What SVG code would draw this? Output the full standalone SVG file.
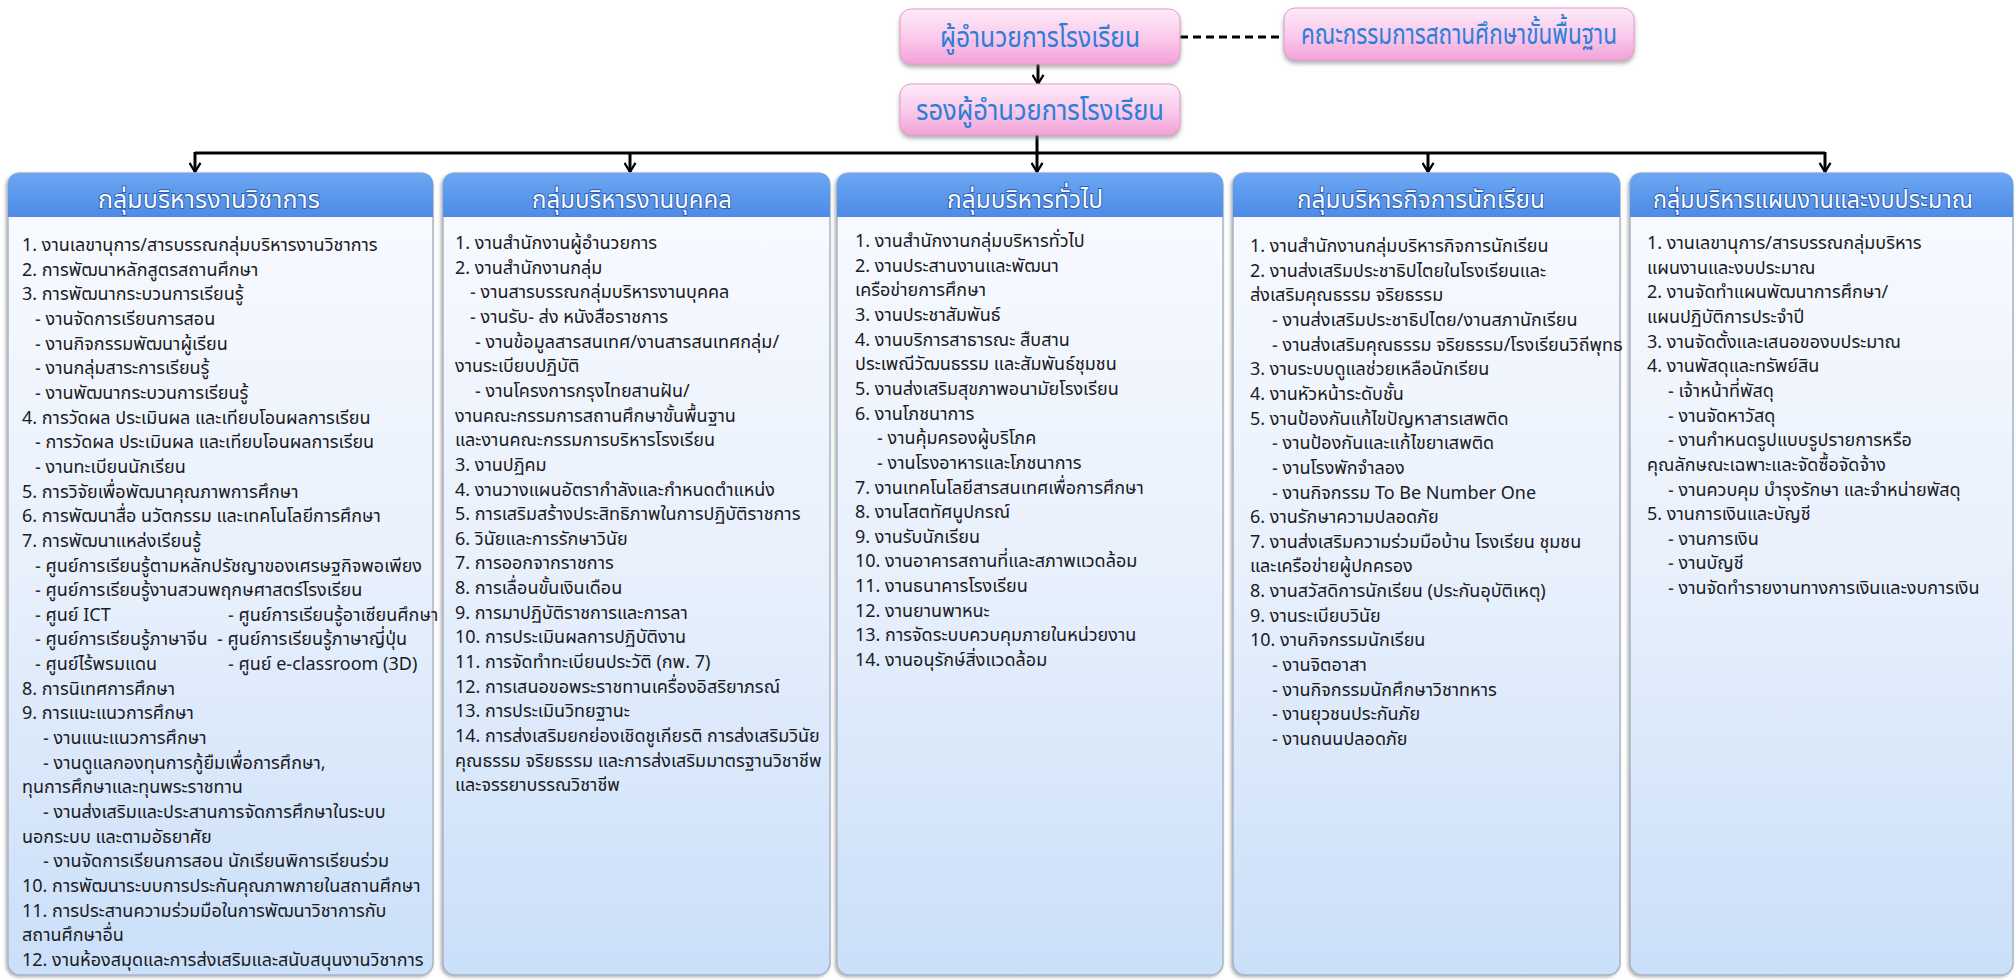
<svg xmlns="http://www.w3.org/2000/svg" width="2015" height="980" viewBox="0 0 2015 980">
<defs>
<style>
.f { font-family: 'Noto Sans Thai UI','Noto Sans Thai','Noto Sans Thai Looped',Loma,Garuda,'Tlwg Typo','Noto Sans','DejaVu Sans',sans-serif; }
.t { font-size: 18px; fill: #1b1b24; }
.h { font-size: 26px; fill: #f6faff; stroke: #2c5fb3; stroke-width: 2; paint-order: stroke; text-anchor: middle; }
.p { font-size: 30px; fill: #2b7fd9; text-anchor: middle; }
.box { fill: url(#pink); stroke: #e59bcc; stroke-width: 1; filter: url(#sh); }
.col { fill: url(#body); stroke: #a9b4c6; stroke-width: 1.5; filter: url(#sh2); }
.hd { fill: url(#head); }
.ln { stroke: #000; stroke-width: 3; fill: none; }
.arr { stroke: #000; stroke-width: 3; fill: none; marker-end: url(#v); }
</style>
<linearGradient id="pink" x1="0" y1="0" x2="0" y2="1">
<stop offset="0" stop-color="#fdebf7"/><stop offset="0.55" stop-color="#fac8eb"/><stop offset="1" stop-color="#f2a2d7"/>
</linearGradient>
<linearGradient id="head" x1="0" y1="0" x2="0" y2="1">
<stop offset="0" stop-color="#6ba7f3"/><stop offset="1" stop-color="#4d8be6"/>
</linearGradient>
<linearGradient id="body" x1="0" y1="0" x2="0" y2="1">
<stop offset="0" stop-color="#f9fbff"/><stop offset="0.5" stop-color="#e8f0fc"/><stop offset="1" stop-color="#cadff9"/>
</linearGradient>
<filter id="sh" x="-10%" y="-20%" width="120%" height="150%"><feDropShadow dx="0" dy="3" stdDeviation="2" flood-color="#777" flood-opacity="0.6"/></filter>
<filter id="sh2" x="-5%" y="-2%" width="110%" height="104%"><feDropShadow dx="-1.5" dy="1.5" stdDeviation="1.5" flood-color="#666" flood-opacity="0.5"/></filter>
<marker id="v" viewBox="0 0 12 14" markerWidth="11" markerHeight="13" refX="11" refY="7" orient="auto" markerUnits="userSpaceOnUse">
<path d="M1,1 L11,7 L1,13" fill="none" stroke="#000" stroke-width="2.5"/>
</marker>
</defs>
<rect width="2015" height="980" fill="#ffffff"/>

<g id="connectors">
<line class="arr" x1="1038" y1="64" x2="1038" y2="84"/>
<line class="ln" x1="1180" y1="37" x2="1284" y2="37" stroke-dasharray="8 5"/>
<line class="ln" x1="195" y1="153" x2="1825" y2="153"/>
<line class="arr" x1="1037" y1="135" x2="1037" y2="172"/>
<line class="arr" x1="195" y1="152" x2="195" y2="172"/>
<line class="arr" x1="630" y1="153" x2="630" y2="172"/>
<line class="arr" x1="1428" y1="153" x2="1428" y2="172"/>
<line class="arr" x1="1825" y1="152" x2="1825" y2="172"/>
</g>

<g id="director">
<rect class="box" x="900" y="9" width="280" height="55" rx="11"/>
<text class="f p" x="1040" y="47" textLength="200" lengthAdjust="spacingAndGlyphs">ผู้อำนวยการโรงเรียน</text>
</g>
<g id="board">
<rect class="box" x="1284" y="8" width="350" height="52" rx="11"/>
<text class="f p" x="1459" y="44" font-size="28" textLength="316" lengthAdjust="spacingAndGlyphs">คณะกรรมการสถานศึกษาขั้นพื้นฐาน</text>
</g>
<g id="deputy">
<rect class="box" x="900" y="84" width="280" height="51" rx="11"/>
<text class="f p" x="1040" y="120" textLength="248" lengthAdjust="spacingAndGlyphs">รองผู้อำนวยการโรงเรียน</text>
</g>

<g id="col-academic">
<rect class="col" x="8" y="173" width="425" height="802" rx="12"/>
<path class="hd" d="M8,217 V185 Q8,173 20,173 H421 Q433,173 433,185 V217 Z"/>
<text class="f h" x="209" y="208" textLength="222" lengthAdjust="spacingAndGlyphs">กลุ่มบริหารงานวิชาการ</text>
<g class="f t">
<text x="22" y="251">1. งานเลขานุการ/สารบรรณกลุ่มบริหารงานวิชาการ</text>
<text x="22" y="275.6">2. การพัฒนาหลักสูตรสถานศึกษา</text>
<text x="22" y="300.3">3. การพัฒนากระบวนการเรียนรู้</text>
<text x="35" y="325">- งานจัดการเรียนการสอน</text>
<text x="35" y="349.6">- งานกิจกรรมพัฒนาผู้เรียน</text>
<text x="35" y="374.3">- งานกลุ่มสาระการเรียนรู้</text>
<text x="35" y="398.9">- งานพัฒนากระบวนการเรียนรู้</text>
<text x="22" y="423.6">4. การวัดผล ประเมินผล และเทียบโอนผลการเรียน</text>
<text x="35" y="448.2">- การวัดผล ประเมินผล และเทียบโอนผลการเรียน</text>
<text x="35" y="472.9">- งานทะเบียนนักเรียน</text>
<text x="22" y="497.5">5. การวิจัยเพื่อพัฒนาคุณภาพการศึกษา</text>
<text x="22" y="522.2">6. การพัฒนาสื่อ นวัตกรรม และเทคโนโลยีการศึกษา</text>
<text x="22" y="546.8">7. การพัฒนาแหล่งเรียนรู้</text>
<text x="35" y="571.5">- ศูนย์การเรียนรู้ตามหลักปรัชญาของเศรษฐกิจพอเพียง</text>
<text x="35" y="596.1">- ศูนย์การเรียนรู้งานสวนพฤกษศาสตร์โรงเรียน</text>
<text x="35" y="620.8">- ศูนย์ ICT</text>
<text x="228" y="620.8">- ศูนย์การเรียนรู้อาเซียนศึกษา</text>
<text x="35" y="645.4">- ศูนย์การเรียนรู้ภาษาจีน</text>
<text x="217" y="645.4">- ศูนย์การเรียนรู้ภาษาญี่ปุ่น</text>
<text x="35" y="670.1">- ศูนย์ไร้พรมแดน</text>
<text x="228" y="670.1">- ศูนย์ e-classroom (3D)</text>
<text x="22" y="694.7">8. การนิเทศการศึกษา</text>
<text x="22" y="719.4">9. การแนะแนวการศึกษา</text>
<text x="43" y="744">- งานแนะแนวการศึกษา</text>
<text x="43" y="768.7">- งานดูแลกองทุนการกู้ยืมเพื่อการศึกษา,</text>
<text x="22" y="793.3">ทุนการศึกษาและทุนพระราชทาน</text>
<text x="43" y="818">- งานส่งเสริมและประสานการจัดการศึกษาในระบบ</text>
<text x="22" y="842.6">นอกระบบ และตามอัธยาศัย</text>
<text x="43" y="867.3">- งานจัดการเรียนการสอน นักเรียนพิการเรียนร่วม</text>
<text x="22" y="891.9">10. การพัฒนาระบบการประกันคุณภาพภายในสถานศึกษา</text>
<text x="22" y="916.6">11. การประสานความร่วมมือในการพัฒนาวิชาการกับ</text>
<text x="22" y="941.2">สถานศึกษาอื่น</text>
<text x="22" y="965.9">12. งานห้องสมุดและการส่งเสริมและสนับสนุนงานวิชาการ</text>
</g>
</g>

<g id="col-personnel">
<rect class="col" x="443" y="173" width="387" height="802" rx="12"/>
<path class="hd" d="M443,217 V185 Q443,173 455,173 H818 Q830,173 830,185 V217 Z"/>
<text class="f h" x="632" y="208" textLength="200" lengthAdjust="spacingAndGlyphs">กลุ่มบริหารงานบุคคล</text>
<g class="f t">
<text x="455" y="249">1. งานสำนักงานผู้อำนวยการ</text>
<text x="455" y="273.6">2. งานสำนักงานกลุ่ม</text>
<text x="470" y="298.3">- งานสารบรรณกลุ่มบริหารงานบุคคล</text>
<text x="470" y="322.9">- งานรับ- ส่ง หนังสือราชการ</text>
<text x="475" y="347.6">- งานข้อมูลสารสนเทศ/งานสารสนเทศกลุ่ม/</text>
<text x="455" y="372.2">งานระเบียบปฏิบัติ</text>
<text x="475" y="396.9">- งานโครงการกรุงไทยสานฝัน/</text>
<text x="455" y="421.5">งานคณะกรรมการสถานศึกษาขั้นพื้นฐาน</text>
<text x="455" y="446.2">และงานคณะกรรมการบริหารโรงเรียน</text>
<text x="455" y="470.8">3. งานปฏิคม</text>
<text x="455" y="495.5">4. งานวางแผนอัตรากำลังและกำหนดตำแหน่ง</text>
<text x="455" y="520.1">5. การเสริมสร้างประสิทธิภาพในการปฏิบัติราชการ</text>
<text x="455" y="544.8">6. วินัยและการรักษาวินัย</text>
<text x="455" y="569.4">7. การออกจากราชการ</text>
<text x="455" y="594.1">8. การเลื่อนขั้นเงินเดือน</text>
<text x="455" y="618.7">9. การมาปฏิบัติราชการและการลา</text>
<text x="455" y="643.4">10. การประเมินผลการปฏิบัติงาน</text>
<text x="455" y="668">11. การจัดทำทะเบียนประวัติ (กพ. 7)</text>
<text x="455" y="692.7">12. การเสนอขอพระราชทานเครื่องอิสริยาภรณ์</text>
<text x="455" y="717.3">13. การประเมินวิทยฐานะ</text>
<text x="455" y="742">14. การส่งเสริมยกย่องเชิดชูเกียรติ การส่งเสริมวินัย</text>
<text x="455" y="766.6">คุณธรรม จริยธรรม และการส่งเสริมมาตรฐานวิชาชีพ</text>
<text x="455" y="791.3">และจรรยาบรรณวิชาชีพ</text>
</g>
</g>

<g id="col-general">
<rect class="col" x="837" y="173" width="386" height="802" rx="12"/>
<path class="hd" d="M837,217 V185 Q837,173 849,173 H1211 Q1223,173 1223,185 V217 Z"/>
<text class="f h" x="1025" y="208" textLength="156" lengthAdjust="spacingAndGlyphs">กลุ่มบริหารทั่วไป</text>
<g class="f t">
<text x="855" y="247">1. งานสำนักงานกลุ่มบริหารทั่วไป</text>
<text x="855" y="271.6">2. งานประสานงานและพัฒนา</text>
<text x="855" y="296.3">เครือข่ายการศึกษา</text>
<text x="855" y="320.9">3. งานประชาสัมพันธ์</text>
<text x="855" y="345.6">4. งานบริการสาธารณะ สืบสาน</text>
<text x="855" y="370.2">ประเพณีวัฒนธรรม และสัมพันธ์ชุมชน</text>
<text x="855" y="394.9">5. งานส่งเสริมสุขภาพอนามัยโรงเรียน</text>
<text x="855" y="419.5">6. งานโภชนาการ</text>
<text x="877" y="444.2">- งานคุ้มครองผู้บริโภค</text>
<text x="877" y="468.8">- งานโรงอาหารและโภชนาการ</text>
<text x="855" y="493.5">7. งานเทคโนโลยีสารสนเทศเพื่อการศึกษา</text>
<text x="855" y="518.1">8. งานโสตทัศนูปกรณ์</text>
<text x="855" y="542.8">9. งานรับนักเรียน</text>
<text x="855" y="567.4">10. งานอาคารสถานที่และสภาพแวดล้อม</text>
<text x="855" y="592.1">11. งานธนาคารโรงเรียน</text>
<text x="855" y="616.7">12. งานยานพาหนะ</text>
<text x="855" y="641.4">13. การจัดระบบควบคุมภายในหน่วยงาน</text>
<text x="855" y="666">14. งานอนุรักษ์สิ่งแวดล้อม</text>
</g>
</g>

<g id="col-student">
<rect class="col" x="1233" y="173" width="387" height="802" rx="12"/>
<path class="hd" d="M1233,217 V185 Q1233,173 1245,173 H1608 Q1620,173 1620,185 V217 Z"/>
<text class="f h" x="1421" y="208" textLength="248" lengthAdjust="spacingAndGlyphs">กลุ่มบริหารกิจการนักเรียน</text>
<g class="f t">
<text x="1250" y="252">1. งานสำนักงานกลุ่มบริหารกิจการนักเรียน</text>
<text x="1250" y="276.6">2. งานส่งเสริมประชาธิปไตยในโรงเรียนและ</text>
<text x="1250" y="301.3">ส่งเสริมคุณธรรม จริยธรรม</text>
<text x="1272" y="325.9">- งานส่งเสริมประชาธิปไตย/งานสภานักเรียน</text>
<text x="1272" y="350.6">- งานส่งเสริมคุณธรรม จริยธรรม/โรงเรียนวิถีพุทธ</text>
<text x="1250" y="375.2">3. งานระบบดูแลช่วยเหลือนักเรียน</text>
<text x="1250" y="399.9">4. งานหัวหน้าระดับชั้น</text>
<text x="1250" y="424.5">5. งานป้องกันแก้ไขปัญหาสารเสพติด</text>
<text x="1272" y="449.2">- งานป้องกันและแก้ไขยาเสพติด</text>
<text x="1272" y="473.8">- งานโรงพักจำลอง</text>
<text x="1272" y="498.5">- งานกิจกรรม To Be Number One</text>
<text x="1250" y="523.1">6. งานรักษาความปลอดภัย</text>
<text x="1250" y="547.8">7. งานส่งเสริมความร่วมมือบ้าน โรงเรียน ชุมชน</text>
<text x="1250" y="572.4">และเครือข่ายผู้ปกครอง</text>
<text x="1250" y="597.1">8. งานสวัสดิการนักเรียน (ประกันอุบัติเหตุ)</text>
<text x="1250" y="621.7">9. งานระเบียบวินัย</text>
<text x="1250" y="646.4">10. งานกิจกรรมนักเรียน</text>
<text x="1272" y="671">- งานจิตอาสา</text>
<text x="1272" y="695.7">- งานกิจกรรมนักศึกษาวิชาทหาร</text>
<text x="1272" y="720.3">- งานยุวชนประกันภัย</text>
<text x="1272" y="745">- งานถนนปลอดภัย</text>
</g>
</g>

<g id="col-budget">
<rect class="col" x="1630" y="173" width="383" height="802" rx="12"/>
<path class="hd" d="M1630,217 V185 Q1630,173 1642,173 H2001 Q2013,173 2013,185 V217 Z"/>
<text class="f h" x="1813" y="208" textLength="320" lengthAdjust="spacingAndGlyphs">กลุ่มบริหารแผนงานและงบประมาณ</text>
<g class="f t">
<text x="1647" y="249">1. งานเลขานุการ/สารบรรณกลุ่มบริหาร</text>
<text x="1647" y="273.6">แผนงานและงบประมาณ</text>
<text x="1647" y="298.3">2. งานจัดทำแผนพัฒนาการศึกษา/</text>
<text x="1647" y="322.9">แผนปฏิบัติการประจำปี</text>
<text x="1647" y="347.6">3. งานจัดตั้งและเสนอของบประมาณ</text>
<text x="1647" y="372.2">4. งานพัสดุและทรัพย์สิน</text>
<text x="1668" y="396.9">- เจ้าหน้าที่พัสดุ</text>
<text x="1668" y="421.5">- งานจัดหาวัสดุ</text>
<text x="1668" y="446.2">- งานกำหนดรูปแบบรูปรายการหรือ</text>
<text x="1647" y="470.8">คุณลักษณะเฉพาะและจัดซื้อจัดจ้าง</text>
<text x="1668" y="495.5">- งานควบคุม บำรุงรักษา และจำหน่ายพัสดุ</text>
<text x="1647" y="520.1">5. งานการเงินและบัญชี</text>
<text x="1668" y="544.8">- งานการเงิน</text>
<text x="1668" y="569.4">- งานบัญชี</text>
<text x="1668" y="594.1">- งานจัดทำรายงานทางการเงินและงบการเงิน</text>
</g>
</g>
</svg>
